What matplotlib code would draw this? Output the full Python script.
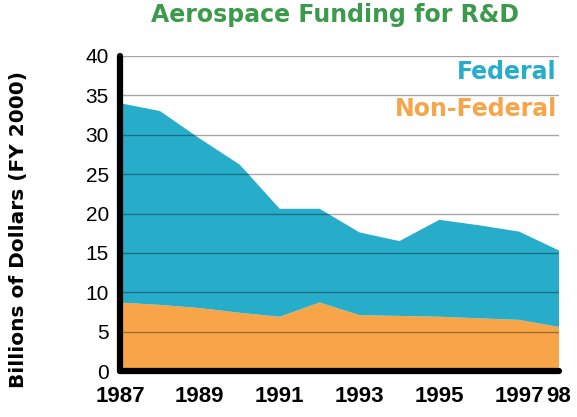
import matplotlib
matplotlib.use("Agg")
import matplotlib.pyplot as plt
import numpy as np

years = [1987, 1988, 1989, 1990, 1991, 1992, 1993, 1994, 1995, 1996, 1997, 1998]
total = [34.0, 33.0, 29.5, 26.2, 20.6, 20.6, 17.6, 16.5, 19.2, 18.5, 17.7, 15.3]
non_federal = [8.7, 8.4, 8.0, 7.4, 6.9, 8.7, 7.1, 7.0, 6.9, 6.7, 6.5, 5.6]
federal = [t - n for t, n in zip(total, non_federal)]

xtick_pos = [1987, 1989, 1991, 1993, 1995, 1997, 1998]
xtick_labels = ["1987", "1989", "1991", "1993", "1995", "1997", "98"]
ytick_pos = list(range(0, 41, 5))

TEAL = "#27ADCA"
ORANGE = "#F7A548"
GREEN = "#3C9A4C"
TICK_FONT = ["Liberation Sans", "DejaVu Sans"]

fig = plt.figure(figsize=(5.77, 4.17), dpi=100)
ax = fig.add_axes([0.208, 0.110, 0.761, 0.756])

ax.stackplot(years, non_federal, federal, colors=[ORANGE, TEAL], linewidth=0)

for y in ytick_pos[1:]:
    ax.axhline(y, color="black", alpha=0.35, lw=1, zorder=3)

ax.set_xlim(1987, 1998)
ax.set_ylim(0, 40)
ax.set_yticks(ytick_pos)
ax.set_yticklabels([str(v) for v in ytick_pos], fontsize=15, family=TICK_FONT)
ax.set_xticks(xtick_pos)
ax.set_xticklabels(xtick_labels, fontsize=16, fontweight="bold", family=TICK_FONT)
ax.tick_params(length=0, pad=8)
ax.tick_params(axis="x", pad=11)

for s in ["top", "right"]:
    ax.spines[s].set_visible(False)
for s in ["left", "bottom"]:
    ax.spines[s].set_linewidth(4.5)
    ax.spines[s].set_capstyle("round")
    ax.spines[s].set_zorder(5)

ax.set_ylabel("Billions of Dollars (FY 2000)", fontsize=14.5, fontweight="bold")
ax.yaxis.set_label_coords(-0.21, 0.45)

fig.text(0.58, 0.964, "Aerospace Funding for R&D", color=GREEN, fontsize=17,
         fontweight="bold", ha="center", va="center")
ax.text(0.995, 0.95, "Federal", color=TEAL, fontsize=17, fontweight="bold",
        ha="right", va="center", transform=ax.transAxes)
ax.text(0.995, 0.83, "Non-Federal", color=ORANGE, fontsize=17, fontweight="bold",
        ha="right", va="center", transform=ax.transAxes)

fig.savefig("out.png", dpi=100)
